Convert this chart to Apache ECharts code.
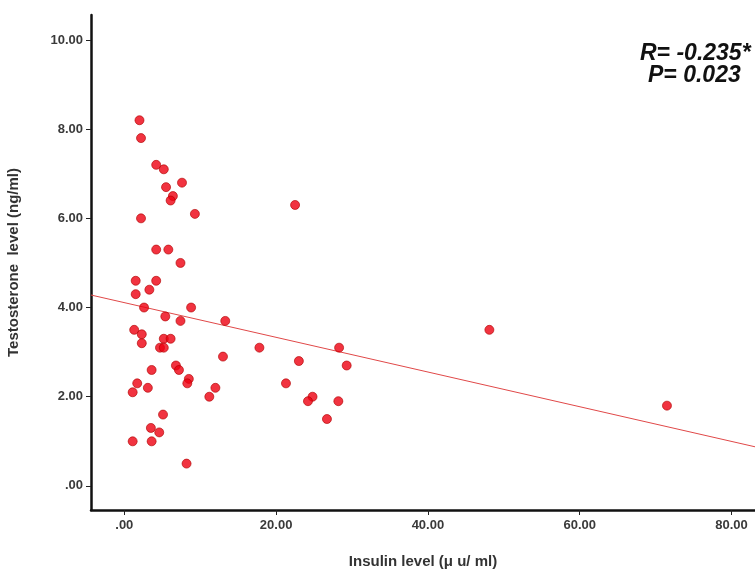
<!DOCTYPE html>
<html>
<head>
<meta charset="utf-8">
<script src="https://cdn.jsdelivr.net/npm/echarts@6/dist/echarts.min.js"></script>
<style>html,body{margin:0;padding:0;background:#fff;}#chart{width:755px;height:572px;}</style>
</head>
<body>
<div id="chart"></div>
<script>
// Insulin level (x) and testosterone level (y)
const insulin = [2.0, 2.2, 4.2, 5.2, 7.6, 5.5, 6.4, 6.1, 9.3, 2.2, 22.5, 4.2, 5.8, 7.4, 1.5, 4.2, 3.3, 1.5, 2.6, 8.8,
  5.4, 7.4, 13.3, 1.3, 2.3, 2.3, 5.2, 6.1, 4.7, 5.2, 17.8, 28.3, 13.0, 23.0, 29.3, 6.8, 7.2, 3.6, 8.5, 8.3,
  1.7, 1.1, 3.1, 12.0, 11.2, 21.3, 24.8, 24.2, 28.2, 26.7, 5.1, 3.5, 4.6, 1.1, 3.6, 8.2, 48.1, 71.5];
const testosterone = [8.2, 7.8, 7.2, 7.1, 6.8, 6.7, 6.5, 6.4, 6.1, 6.0, 6.3, 5.3, 5.3, 5.0, 4.6, 4.6, 4.4, 4.3, 4.0, 4.0,
  3.8, 3.7, 3.7, 3.5, 3.4, 3.2, 3.3, 3.3, 3.1, 3.1, 3.1, 3.1, 2.9, 2.8, 2.7, 2.7, 2.6, 2.6, 2.4, 2.3,
  2.3, 2.1, 2.2, 2.2, 2.0, 2.3, 2.0, 1.9, 1.9, 1.5, 1.6, 1.3, 1.2, 1.0, 1.0, 0.5, 3.5, 1.8];
// fitted line
const fitIntercept = 4.11;
const fitSlope = -0.0389;
const xRange = [-4.39, 83.1];
const yRange = [-0.54, 10.56];
const xTicks = [0, 20, 40, 60, 80];
const xTickLabels = ['.00', '20.00', '40.00', '60.00', '80.00'];
const yTicks = [0, 2, 4, 6, 8, 10];
const yTickLabels = ['.00', '2.00', '4.00', '6.00', '8.00', '10.00'];
const statLines = ['R= -0.235*', 'P= 0.023'];

const points = insulin.map((x, i) => [x, testosterone[i]]);
const fitLine = xRange.map(x => [x, fitIntercept + fitSlope * x]);
const font = "'Liberation Sans', Arial, sans-serif";
const statFont = "italic bold 23px 'Liberation Sans', Arial, sans-serif";

const chart = echarts.init(document.getElementById('chart'), null, {renderer: 'canvas'});
chart.setOption({
  animation: false,
  backgroundColor: '#fff',
  grid: {left: 91, right: 0, top: 15, bottom: 62, containLabel: false, outerBoundsMode: 'none'},
  xAxis: {
    type: 'value', min: xRange[0], max: xRange[1],
    name: 'Insulin level (μ u/ ml)', nameLocation: 'middle', nameGap: 44,
    nameTextStyle: {fontFamily: font, fontWeight: 'bold', fontSize: 15, color: '#333'},
    axisLine: {show: true, onZero: false, lineStyle: {color: '#111', width: 2.5}},
    axisTick: {show: true, length: 5, lineStyle: {color: '#222', width: 1}, customValues: xTicks},
    axisLabel: {customValues: xTicks, margin: 9, fontFamily: font, fontWeight: 'bold', fontSize: 13, color: '#3a3a3a',
      formatter: v => xTickLabels[xTicks.indexOf(Math.round(v))] || ''},
    splitLine: {show: false}
  },
  yAxis: {
    type: 'value', min: yRange[0], max: yRange[1],
    name: 'Testosterone  level (ng/ml)', nameLocation: 'middle', nameGap: 70,
    nameTextStyle: {fontFamily: font, fontWeight: 'bold', fontSize: 15, color: '#333'},
    axisLine: {show: true, onZero: false, lineStyle: {color: '#111', width: 2.5}},
    axisTick: {show: true, length: 5, lineStyle: {color: '#222', width: 1}, customValues: yTicks},
    axisLabel: {customValues: yTicks, margin: 8, fontFamily: font, fontWeight: 'bold', fontSize: 13, color: '#3a3a3a',
      formatter: v => yTickLabels[yTicks.indexOf(Math.round(v))] || ''},
    splitLine: {show: false}
  },
  series: [
    {
      type: 'line', data: fitLine, symbol: 'none', silent: true,
      lineStyle: {color: '#e04848', width: 1}, z: 1
    },
    {
      type: 'scatter', data: points, symbolSize: 9,
      itemStyle: {color: '#ee0010', borderColor: '#b00000', borderWidth: 0.8}, z: 2
    }
  ],
  graphic: [
    {type: 'text', x: 640, y: 54, style: {text: statLines[0], font: statFont, fill: '#111', verticalAlign: 'middle'}},
    {type: 'text', x: 648, y: 76, style: {text: statLines[1], font: statFont, fill: '#111', verticalAlign: 'middle'}}
  ]
});
</script>
</body>
</html>
